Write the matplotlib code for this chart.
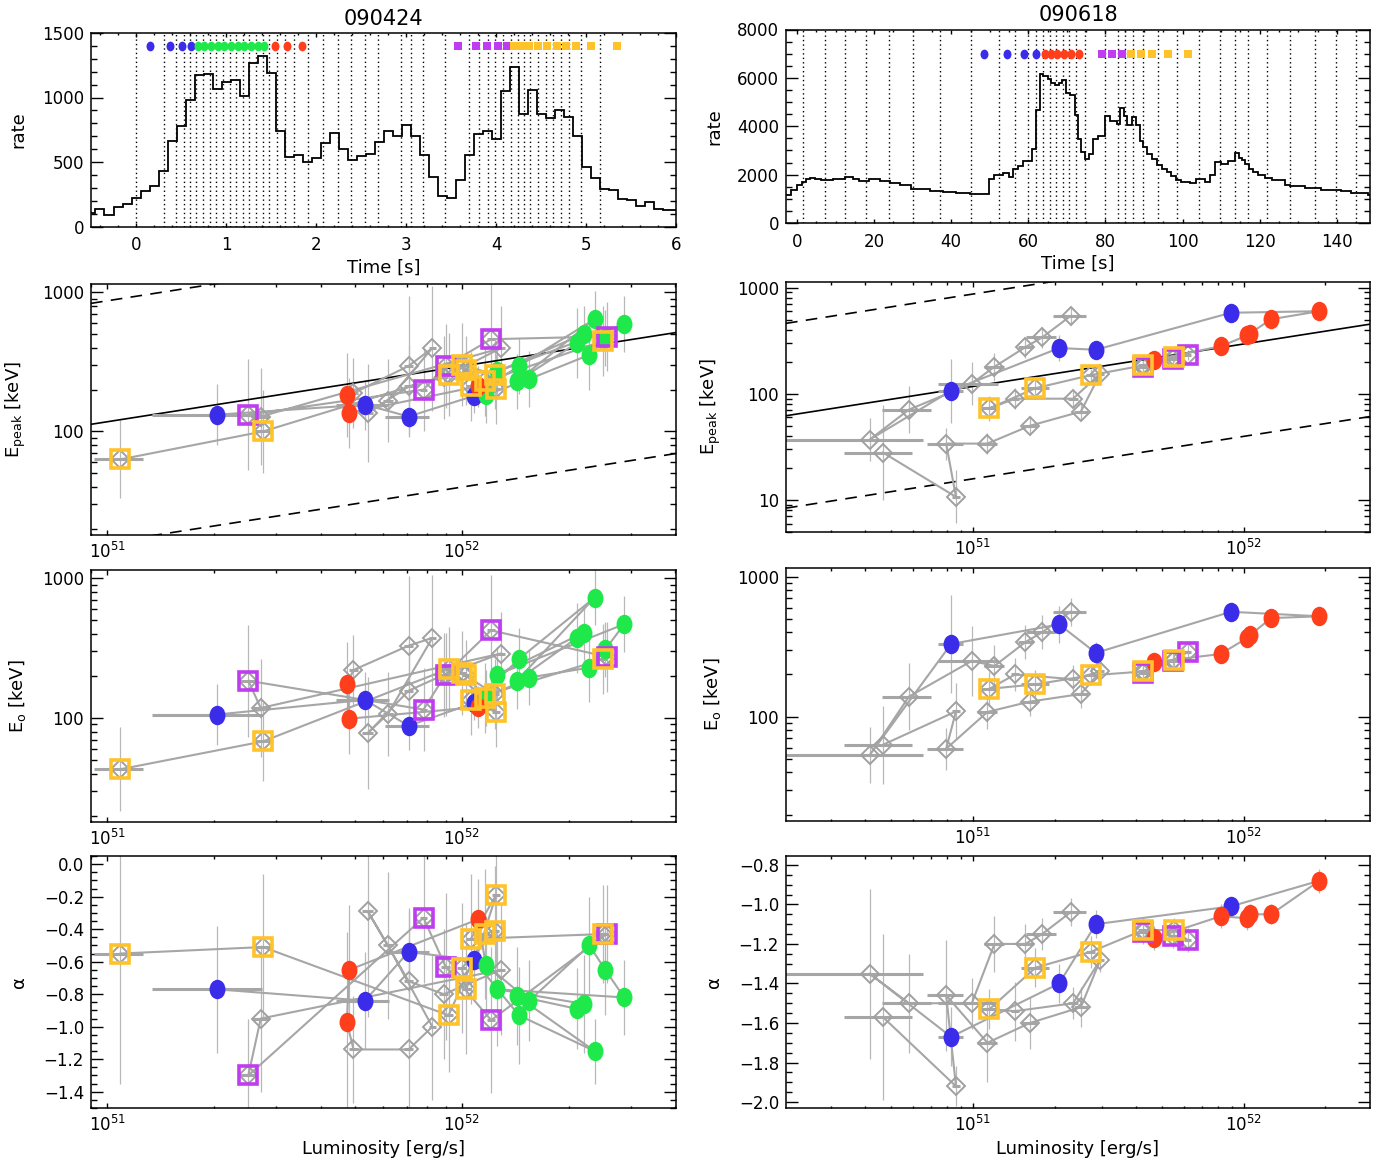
import numpy as np
import matplotlib
matplotlib.use("Agg")
from matplotlib import pyplot as plt
from matplotlib.path import Path
from matplotlib.transforms import Affine2D
from matplotlib.ticker import MultipleLocator, LogLocator, FuncFormatter, NullFormatter

plt.rcParams["font.family"] = ["DejaVu Sans"]
plt.rcParams["font.size"] = 12
plt.rcParams["axes.linewidth"] = 1.1

# ---------------- light curves ----------------
# GRB 090424: 0.1 s bins starting at -0.55 s
lc_t0_424 = -0.55
lc_dt_424 = 0.1
lc_rate_424 = [104, 135, 92, 148, 174, 220, 277, 316, 427, 659, 780, 977, 1175, 1183, 1064, 1118,
               1136, 1015, 1271, 1325, 1188, 737, 536, 551, 499, 530, 646, 724, 602, 512, 543, 563,
               652, 742, 698, 788, 703, 551, 383, 238, 221, 362, 556, 716, 737, 680, 1054, 1240,
               871, 1059, 871, 840, 904, 848, 703, 458, 375, 290, 280, 215, 207, 161, 187, 135,
               130, 130]
# spectral interval starts (dotted lines)
lines_424 = [0.003, 0.31, 0.447, 0.53, 0.595, 0.67, 0.743, 0.817, 0.89, 0.965, 1.04, 1.11, 1.19,
             1.26, 1.33, 1.41, 1.48, 1.57, 1.65, 1.76, 1.91, 2.08, 2.24, 2.39, 2.54, 2.69, 2.946,
             3.057, 3.186, 3.437, 3.70, 3.81, 3.906, 3.99, 4.08, 4.165, 4.24, 4.31, 4.38, 4.47,
             4.55, 4.63, 4.72, 4.81, 4.94, 5.16]
mark_blue_424 = [0.152, 0.381, 0.510, 0.614]
mark_green_424 = [0.687, 0.761, 0.835, 0.909, 0.983, 1.057, 1.131, 1.205, 1.278, 1.352, 1.419]
mark_red_424 = [1.549, 1.675, 1.841]
mark_purple_424 = [3.575, 3.778, 3.896, 4.018, 4.118]
mark_orange_424 = [4.203, 4.277, 4.370, 4.462, 4.562, 4.673, 4.776, 4.887, 5.060, 5.349]

# GRB 090618: variable bins
lc_edges_618 = [-3.0, -1.5, 0.0, 1.4, 2.4, 3.3, 4.6, 6.3, 9.3, 12.4, 14.5, 16.2, 18.8, 21.4, 24.0,
                26.6, 29.6, 34.4, 37.8, 41.3, 44.8, 48.7, 49.9, 51.2, 53.4, 55.1, 56.0, 57.3, 58.6,
                61.0, 62.0, 62.9, 63.8, 65.1, 65.9, 66.8, 67.9, 68.8, 69.8, 70.9, 72.0, 72.9, 73.6,
                74.7, 75.7, 76.8, 78.0, 80.0, 81.2, 82.9, 83.7, 84.9, 85.7, 86.8, 87.8, 88.9, 89.8,
                90.7, 92.0, 93.3, 94.6, 95.9, 97.1, 98.4, 99.7, 101.9, 103.6, 105.8, 107.1, 108.4,
                109.9, 111.9, 113.6, 114.5, 115.3, 116.2, 117.1, 118.3, 119.6, 121.4, 123.1, 126.6,
                127.8, 131.7, 136.0, 141.2, 143.8, 148.1, 150.0]
lc_rate_618 = [1172, 1379, 1558, 1696, 1834, 1862, 1806, 1793, 1834, 1889, 1834, 1751, 1806, 1724,
               1669, 1586, 1420, 1324, 1282, 1241, 1186, 1213, 1834, 1972, 2069, 1903, 2248, 2358,
               2551, 3048, 4661, 6178, 6081, 5971, 5806, 5695, 5806, 5930, 5392, 5309, 4454, 3489,
               2937, 2634, 2868, 3489, 3600, 4427, 4206, 4109, 4758, 4427, 4040, 4385, 4040, 3379,
               3144, 2868, 2661, 2386, 2220, 2110, 1944, 1765, 1696, 1669, 1806, 1696, 2000, 2524,
               2455, 2551, 2910, 2689, 2593, 2455, 2248, 2110, 1972, 1862, 1765, 1586, 1531, 1462,
               1379, 1324, 1255, 1172]
lines_618 = [1.56, 7.17, 12.36, 17.98, 23.85, 30.07, 37.16, 45.2, 52.37, 56.43, 59.89, 62.05, 63.78,
             65.51, 67.24, 68.97, 70.52, 72.25, 74.67, 79.85, 83.3, 85.04, 87.2, 89.79, 93.68,
             98.43, 104.2, 109.7, 113.6, 117.0, 122.0, 127.8, 134.3, 139.7, 144.9]
mark_blue_618 = [48.48, 54.45, 58.85, 62.05]
mark_red_618 = [64.21, 65.76, 67.49, 69.22, 70.95, 73.11]
mark_purple_618 = [79.2, 81.8, 84.2]
mark_orange_618 = [86.6, 89.1, 92.1, 96.1, 101.3]

# ---------------- time-resolved spectra ----------------
# luminosity in 1e51 erg/s, errors on Epeak/E0 in dex
grp_424 = list("bbbbgggggggggggrrrkkkkkkkkkpppppoooooooooo")
lum_424 = [2.04, 5.33, 7.08, 10.8, 14.5, 23.7, 14.3, 21.1, 22.1, 12.6, 28.7, 25.4, 22.9, 15.5, 11.7,
           11.1, 4.82, 4.74, 4.95, 7.08, 8.26, 6.19, 5.43, 7.08, 8.90, 12.9, 2.71,
           2.50, 7.80, 9.00, 12.1, 25.6, 25.1, 10.6, 12.5, 10.3, 10.0, 12.4, 11.6, 9.18, 2.75, 1.09]
lum_err_424 = [0.70, 0.90, 1.00, 0.30, 0.4, 0.5, 0.4, 0.5, 0.5, 0.4, 0.6, 0.5, 0.5, 0.4, 0.3,
               0.3, 0.15, 0.15, 0.15, 0.2, 0.2, 0.2, 0.2, 0.2, 0.25, 0.3, 0.15,
               0.15, 0.2, 0.25, 0.3, 0.5, 0.5, 0.3, 0.3, 0.3, 0.3, 0.3, 0.3, 0.25, 0.15, 0.17]
epk_424 = [132, 156, 128, 180, 296, 643, 229, 432, 504, 270, 592, 469, 356, 238, 183,
           211, 136, 183, 189, 296, 398, 167, 136, 211, 245, 398, 128,
           132, 200, 296, 461, 482, 449, 211, 202, 275, 302, 256, 229, 256, 100, 63]
epk_dex_424 = [0.22, 0.18, 0.15, 0.12, 0.2, 0.2, 0.2, 0.25, 0.2, 0.2, 0.2, 0.2, 0.25, 0.2, 0.2,
               0.15, 0.25, 0.3, 0.25, 0.5, 0.45, 0.3, 0.35, 0.3, 0.3, 0.3, 0.35,
               0.4, 0.3, 0.3, 0.4, 0.25, 0.25, 0.25, 0.25, 0.25, 0.3, 0.25, 0.25, 0.3, 0.3, 0.28]
e0_424 = [106, 135, 88, 128, 265, 730, 185, 375, 410, 205, 470, 310, 230, 195, 140,
          120, 99, 175, 221, 330, 375, 107, 78, 157, 204, 290, 118,
          185, 115, 205, 425, 275, 265, 135, 110, 205, 210, 148, 140, 225, 68, 43]
e0_dex_424 = [0.22, 0.2, 0.17, 0.12, 0.22, 0.2, 0.2, 0.25, 0.2, 0.2, 0.2, 0.2, 0.25, 0.2, 0.2,
              0.15, 0.25, 0.3, 0.25, 0.5, 0.45, 0.3, 0.4, 0.3, 0.3, 0.3, 0.35,
              0.4, 0.3, 0.3, 0.4, 0.25, 0.25, 0.25, 0.25, 0.25, 0.3, 0.25, 0.25, 0.3, 0.28, 0.3]
alpha_424 = [-0.77, -0.84, -0.54, -0.59, -0.93, -1.15, -0.81, -0.89, -0.86, -0.77, -0.82, -0.65,
             -0.50, -0.84, -0.62, -0.34, -0.65, -0.97, -1.14, -1.14, -1.00, -0.50, -0.29, -0.72,
             -0.80, -0.65, -0.95, -1.30, -0.33, -0.63, -0.96, -0.43, -0.43, -0.46, -0.19, -0.77,
             -0.64, -0.41, -0.43, -0.93, -0.51, -0.55]
alpha_err_424 = [0.39, 0.30, 0.25, 0.22, 0.3, 0.2, 0.3, 0.25, 0.3, 0.35, 0.23, 0.28, 0.3, 0.25, 0.3,
                 0.25, 0.4, 0.55, 0.33, 0.55, 0.45, 0.45, 0.65, 0.45, 0.4, 0.4, 0.45,
                 0.35, 0.4, 0.45, 0.45, 0.3, 0.3, 0.4, 0.45, 0.4, 0.4, 0.4, 0.4, 0.35, 0.45, 0.8]

grp_618 = list("kkkkkkkbbbbrrrrrrpppoooookkkkkkkkk")
lum_618 = [2.29, 1.80, 1.56, 1.20, 0.99, 0.58, 0.415, 0.83, 2.08, 2.84, 8.95,
           19.0, 12.6, 10.5, 10.3, 8.20, 4.67, 4.25, 5.46, 6.20, 5.53, 4.25, 2.72, 1.70, 1.15,
           1.43, 2.34, 2.95, 2.50, 1.62, 1.13, 0.796, 0.865, 0.465]
lum_err_618 = [0.32, 0.23, 0.10, 0.10, 0.25, 0.12, 0.24, 0.09, 0.10, 0.10, 0.3,
               0.5, 0.4, 0.3, 0.3, 0.3, 0.2, 0.2, 0.2, 0.2, 0.2, 0.2, 0.1, 0.2, 0.1,
               0.05, 0.1, 0.1, 0.15, 0.1, 0.1, 0.12, 0.03, 0.13]
epk_618 = [540, 340, 275, 180, 125, 71, 37, 107, 270, 260, 580,
           600, 504, 369, 355, 280, 210, 180, 215, 232, 222, 185, 150, 113, 73,
           90, 90, 155, 68, 50, 34, 34, 10.7, 28]
epk_dex_618 = [0.08, 0.1, 0.1, 0.13, 0.2, 0.22, 0.2, 0.3, 0.12, 0.07, 0.06,
               0.05, 0.05, 0.05, 0.05, 0.05, 0.05, 0.05, 0.05, 0.05, 0.05, 0.05, 0.06, 0.1, 0.12,
               0.1, 0.08, 0.07, 0.08, 0.09, 0.1, 0.15, 0.25, 0.45]
e0_618 = [560, 400, 340, 230, 250, 139, 53, 330, 455, 285, 560,
          520, 505, 380, 365, 280, 245, 205, 250, 290, 255, 210, 197, 170, 158,
          200, 185, 210, 145, 128, 108, 59, 109, 63]
e0_dex_618 = [0.1, 0.12, 0.12, 0.15, 0.25, 0.24, 0.2, 0.35, 0.13, 0.08, 0.06,
              0.05, 0.06, 0.06, 0.06, 0.06, 0.06, 0.06, 0.06, 0.06, 0.06, 0.06, 0.07, 0.1, 0.12,
              0.12, 0.1, 0.08, 0.1, 0.1, 0.12, 0.15, 0.2, 0.28]
alpha_618 = [-1.04, -1.15, -1.20, -1.20, -1.50, -1.50, -1.35, -1.67, -1.40, -1.10, -1.01,
             -0.88, -1.05, -1.05, -1.07, -1.06, -1.17, -1.14, -1.16, -1.18, -1.13, -1.13, -1.24,
             -1.32, -1.53, -1.54, -1.50, -1.28, -1.52, -1.60, -1.70, -1.46, -1.92, -1.57]
alpha_err_618 = [0.07, 0.08, 0.1, 0.14, 0.13, 0.25, 0.43, 0.15, 0.1, 0.07, 0.05,
                 0.06, 0.05, 0.05, 0.06, 0.06, 0.06, 0.06, 0.06, 0.06, 0.06, 0.06, 0.08, 0.1, 0.1,
                 0.15, 0.08, 0.06, 0.1, 0.13, 0.2, 0.28, 0.1, 0.42]

# Epeak-L relation (solid) and its 3 sigma band (dashed)
REL_NORM = 295.0   # keV at 1e52 erg/s
REL_SLOPE = 0.4
REL_WIDTH = 0.87   # dex

colors = {"b": "#3a2ce8", "g": "#1ee84a", "r": "#ff3e1c", "p": "#c03cf0", "o": "#ffc228"}
grey_line = "#a6a6a6"
grey_err = "#b8b8b8"

# slightly tall ellipse, like the IDL user symbol
oval = Path.unit_circle().transformed(Affine2D().scale(0.82, 1.0))

fig = plt.figure(figsize=(13.94, 11.67), dpi=100)
W, H = 1394.0, 1167.0


def make_ax(x0, x1, y0, y1):
    return fig.add_axes([x0 / W, 1 - y1 / H, (x1 - x0) / W, (y1 - y0) / H])


def style(ax, xlen, ylen):
    ax.tick_params(which="both", direction="in", top=True, right=True)
    ax.tick_params(axis="y", which="major", length=ylen, width=1.0, pad=5)
    ax.tick_params(axis="y", which="minor", length=ylen / 2, width=1.0)
    ax.tick_params(axis="x", which="major", length=xlen, width=1.0, pad=7)
    ax.tick_params(axis="x", which="minor", length=xlen / 2, width=1.0)


def draw_lc(ax, edges, rates, lines, marks, ymark, xlim, ylim, title, ymaj, ymin, xmaj, xmin):
    ax.stairs(rates, edges, color="k", lw=1.3, baseline=None)
    for t in lines:
        ax.axvline(t, color="k", lw=1.0, ls=(0, (1, 2.2)))
    for key, ts in marks:
        if key in "po":
            ax.plot(ts, [ymark] * len(ts), "s", color=colors[key], ms=6, mew=0, ls="none", zorder=5)
        else:
            ax.plot(ts, [ymark] * len(ts), marker=oval, color=colors[key], ms=7, mew=0,
                    ls="none", zorder=5)
    ax.set_xlim(*xlim)
    ax.set_ylim(*ylim)
    ax.yaxis.set_major_locator(MultipleLocator(ymaj))
    ax.yaxis.set_minor_locator(MultipleLocator(ymin))
    ax.xaxis.set_major_locator(MultipleLocator(xmaj))
    ax.xaxis.set_minor_locator(MultipleLocator(xmin))
    style(ax, 2.8, 8.4)
    ax.set_title(title, fontsize=15, pad=6)
    ax.set_xlabel("Time [s]", fontsize=13)
    ax.set_ylabel("rate", fontsize=13)
    ax.xaxis.set_label_coords(0.5, -0.165)
    ax.yaxis.set_label_coords(-0.108, 0.5)


def draw_track(ax, lum, lum_err, y, ylo, yhi, grp):
    lum = np.asarray(lum) * 1e51
    lerr = np.asarray(lum_err) * 1e51
    y = np.asarray(y, dtype=float)
    grp = np.asarray(grp)
    ax.plot(lum, y, color=grey_line, lw=1.5, zorder=2)
    ax.vlines(lum, ylo, yhi, color=grey_err, lw=0.9, zorder=1)
    ax.hlines(y, lum - lerr, lum + lerr, color=grey_line, lw=2.2, zorder=2)
    hollow = np.isin(grp, ["k", "p", "o"])
    ax.plot(lum[hollow], y[hollow], "D", ms=9.5, mfc="none", mec="#a0a0a0", mew=1.4,
            ls="none", zorder=3)
    for key in "bgr":
        sel = grp == key
        ax.plot(lum[sel], y[sel], marker=oval, color=colors[key], ms=14, mew=0, ls="none",
                zorder=4)
    for key in "po":
        sel = grp == key
        ax.plot(lum[sel], y[sel], "s", mfc="none", mec=colors[key], ms=13, mew=2.6,
                ls="none", zorder=5)


def log_y(ax, ylim):
    ax.set_yscale("log")
    ax.set_ylim(*ylim)
    ax.yaxis.set_major_locator(LogLocator(base=10, numticks=10))
    ax.yaxis.set_minor_locator(LogLocator(base=10, subs=np.arange(2, 10), numticks=20))
    ax.yaxis.set_major_formatter(FuncFormatter(lambda v, p: "%d" % round(v)))
    ax.yaxis.set_minor_formatter(NullFormatter())


def lum_axis(ax, xlim, last):
    ax.set_xscale("log")
    ax.set_xlim(*xlim)
    ax.xaxis.set_minor_locator(LogLocator(base=10, subs=np.arange(2, 10), numticks=20))
    ax.xaxis.set_minor_formatter(NullFormatter())
    style(ax, 3.6, 8.4)
    ax.tick_params(axis="x", which="major", pad=5)
    if last:
        ax.set_xlabel("Luminosity [erg/s]", fontsize=13)
        ax.xaxis.set_label_coords(0.5, -0.125)


cols = [
    dict(x0=91, x1=676, top=(33, 226.5), rows=[(284, 535), (570, 822), (856, 1108)],
         edges=lc_t0_424 + lc_dt_424 * np.arange(len(lc_rate_424) + 1), rates=lc_rate_424,
         lines=lines_424,
         marks=[("b", mark_blue_424), ("g", mark_green_424), ("r", mark_red_424),
                ("p", mark_purple_424), ("o", mark_orange_424)],
         ymark=1400, tx=(-0.5, 6.0), ty=(0, 1500), title="090424", ymaj=500, ymin=100,
         xmaj=1, xmin=0.2, lx=(9.0e50, 4.02e52), epy=(18, 1150), e0y=(18, 1150),
         ay=(-1.5, 0.05), grp=grp_424, lum=lum_424, lerr=lum_err_424, epk=epk_424,
         epk_dex=epk_dex_424, e0=e0_424, e0_dex=e0_dex_424, alpha=alpha_424,
         alpha_err=alpha_err_424),
    dict(x0=786, x1=1370, top=(29.5, 223), rows=[(282, 532), (568, 821), (856, 1108)],
         edges=lc_edges_618, rates=lc_rate_618, lines=lines_618,
         marks=[("b", mark_blue_618), ("r", mark_red_618), ("p", mark_purple_618),
                ("o", mark_orange_618)],
         ymark=7000, tx=(-2.85, 148.6), ty=(0, 8000), title="090618", ymaj=2000, ymin=500,
         xmaj=20, xmin=5, lx=(2.04e50, 2.92e52), epy=(5, 1130), e0y=(18, 1150),
         ay=(-2.03, -0.755), grp=grp_618, lum=lum_618, lerr=lum_err_618, epk=epk_618,
         epk_dex=epk_dex_618, e0=e0_618, e0_dex=e0_dex_618, alpha=alpha_618,
         alpha_err=alpha_err_618),
]

for c in cols:
    ax = make_ax(c["x0"], c["x1"], *c["top"])
    draw_lc(ax, c["edges"], c["rates"], c["lines"], c["marks"], c["ymark"], c["tx"], c["ty"],
            c["title"], c["ymaj"], c["ymin"], c["xmaj"], c["xmin"])

    # Epeak
    ax = make_ax(c["x0"], c["x1"], *c["rows"][0])
    epk = np.asarray(c["epk"], dtype=float)
    d = np.asarray(c["epk_dex"])
    draw_track(ax, c["lum"], c["lerr"], epk, epk / 10 ** d, epk * 10 ** d, c["grp"])
    lgrid = np.logspace(np.log10(c["lx"][0]), np.log10(c["lx"][1]), 50)
    rel = REL_NORM * (lgrid / 1e52) ** REL_SLOPE
    ax.plot(lgrid, rel, color="k", lw=1.2, zorder=1.5)
    ax.plot(lgrid, rel * 10 ** REL_WIDTH, color="k", lw=1.2, ls=(0, (7, 5)), zorder=1.5)
    ax.plot(lgrid, rel / 10 ** REL_WIDTH, color="k", lw=1.2, ls=(0, (7, 5)), zorder=1.5)
    log_y(ax, c["epy"])
    lum_axis(ax, c["lx"], False)
    ax.set_ylabel(r"E$_{\rm peak}$ [keV]", fontsize=13)
    ax.yaxis.set_label_coords(-0.108, 0.5)

    # E0
    ax = make_ax(c["x0"], c["x1"], *c["rows"][1])
    e0 = np.asarray(c["e0"], dtype=float)
    d = np.asarray(c["e0_dex"])
    draw_track(ax, c["lum"], c["lerr"], e0, e0 / 10 ** d, e0 * 10 ** d, c["grp"])
    log_y(ax, c["e0y"])
    lum_axis(ax, c["lx"], False)
    ax.set_ylabel(r"E$_{\rm o}$ [keV]", fontsize=13)
    ax.yaxis.set_label_coords(-0.108, 0.5)

    # alpha
    ax = make_ax(c["x0"], c["x1"], *c["rows"][2])
    al = np.asarray(c["alpha"])
    ae = np.asarray(c["alpha_err"])
    draw_track(ax, c["lum"], c["lerr"], al, al - ae, al + ae, c["grp"])
    ax.set_ylim(*c["ay"])
    ax.yaxis.set_major_locator(MultipleLocator(0.2))
    ax.yaxis.set_minor_locator(MultipleLocator(0.05))
    ax.yaxis.set_major_formatter(FuncFormatter(lambda v, p: ("%.1f" % v).replace("-", "\u2212")
                                               if abs(v) > 1e-9 else "0.0"))
    lum_axis(ax, c["lx"], True)
    ax.set_ylabel("\u03b1", fontsize=13)
    ax.yaxis.set_label_coords(-0.108, 0.5)

fig.savefig("out.png", dpi=100)
